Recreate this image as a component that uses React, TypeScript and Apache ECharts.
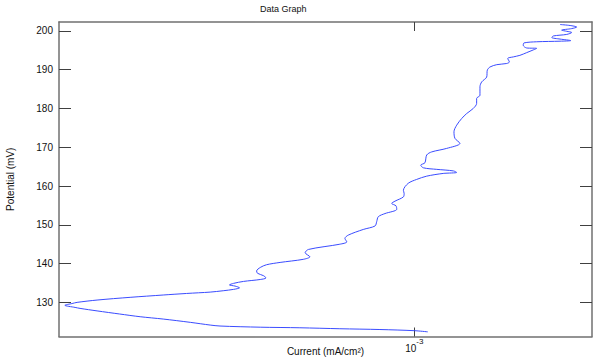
import React, { useEffect, useRef } from "react";
import * as echarts from "echarts";

// Current density (mA/cm²) (log axis)
const currents: number[] = [
  1.06e-3, 1.0e-3, 8.62e-4, 7.25e-4, 6.1e-4, 5.14e-4, 4.32e-4, 4.14e-4, 3.8e-4, 3.38e-4,
  3.06e-4, 2.8e-4, 2.54e-4, 2.36e-4, 2.31e-4, 2.21e-4, 2.28e-4, 2.33e-4, 2.54e-4, 2.93e-4,
  3.38e-4, 3.74e-4, 4.14e-4, 4.38e-4, 4.58e-4, 4.7e-4, 4.61e-4, 4.5e-4, 4.58e-4, 4.78e-4,
  5.14e-4, 5.27e-4, 5.21e-4, 5.08e-4, 5.06e-4, 5.14e-4, 5.28e-4, 5.6e-4, 6.19e-4, 6.37e-4,
  6.24e-4, 6.33e-4, 7.25e-4, 7.47e-4, 7.41e-4, 7.52e-4, 8.02e-4, 8.44e-4, 8.5e-4, 8.56e-4,
  8.81e-4, 9.27e-4, 9.24e-4, 9.07e-4, 9.2e-4, 9.54e-4, 9.57e-4, 9.54e-4, 9.74e-4, 1.01e-3,
  1.055e-3, 1.133e-3, 1.201e-3, 1.184e-3, 1.102e-3, 1.04e-3, 1.028e-3, 1.047e-3, 1.055e-3, 1.078e-3,
  1.15e-3, 1.218e-3, 1.192e-3, 1.187e-3, 1.201e-3, 1.227e-3, 1.254e-3, 1.29e-3, 1.309e-3, 1.309e-3,
  1.328e-3, 1.328e-3, 1.338e-3, 1.367e-3, 1.371e-3, 1.387e-3, 1.428e-3, 1.491e-3, 1.508e-3, 1.497e-3,
  1.534e-3, 1.578e-3, 1.625e-3, 1.672e-3, 1.697e-3, 1.625e-3, 1.601e-3, 1.606e-3, 1.697e-3, 1.877e-3,
  1.966e-3, 1.877e-3, 1.811e-3, 1.823e-3, 1.932e-3, 1.974e-3, 1.932e-3, 1.89e-3, 1.974e-3, 2.017e-3,
  1.96e-3, 1.877e-3,
];

// Potential (mV)
const potentials: number[] = [
  122.4, 122.7, 123.0, 123.2, 123.45, 123.6, 123.9, 124.15, 124.85, 125.7,
  126.3, 127.0, 127.8, 128.45, 128.7, 129.25, 129.7, 130.0, 130.6, 131.3,
  131.9, 132.3, 132.65, 133.0, 133.35, 133.75, 134.2, 134.5, 134.9, 135.4,
  135.9, 136.3, 136.9, 137.5, 138.1, 139.0, 139.7, 140.3, 141.1, 141.75,
  142.8, 143.65, 145.0, 145.6, 146.5, 147.35, 148.8, 149.7, 150.8, 152.1,
  152.9, 154.0, 154.9, 155.5, 156.1, 157.2, 158.1, 158.9, 160.7, 161.7,
  162.55, 163.25, 163.5, 163.9, 164.3, 164.7, 165.4, 166.0, 168.0, 168.8,
  169.7, 171.0, 172.3, 174.0, 175.7, 177.4, 178.7, 180.0, 181.3, 182.6,
  183.4, 185.6, 186.85, 188.1, 189.9, 190.7, 191.3, 191.6, 192.0, 192.9,
  193.3, 193.7, 194.4, 195.1, 195.5, 195.6, 196.3, 196.9, 197.2, 197.35,
  197.5, 197.9, 198.3, 198.7, 199.1, 199.6, 199.9, 200.2, 200.6, 201.0,
  201.4, 201.65,
];

const yTicks: number[] = [130, 140, 150, 160, 170, 180, 190, 200];
const xTickExponents: number[] = [-3];

const X_MIN = -3.6666; // log10 of current
const X_MAX = -2.6666;
const Y_MIN = 121.2;
const Y_MAX = 202.3;

const FONT = "Liberation Sans, Arial, sans-serif";
const AXIS_COLOR = "#707070";
const TICK_COLOR = "#404040";

export default function App() {
  const ref = useRef<HTMLDivElement>(null);

  useEffect(() => {
    if (!ref.current) return;
    const chart = echarts.init(ref.current, undefined, { renderer: "svg" });
    const data = currents.map((c, i) => [Math.log10(c), potentials[i]]);

    const axisLine = { show: true, onZero: false, lineStyle: { color: AXIS_COLOR, width: 1.5 } };

    chart.setOption({
      animation: false,
      backgroundColor: "#ffffff",
      textStyle: { fontFamily: FONT },
      grid: {
        left: 59,
        right: 8,
        top: 22,
        bottom: 25.5,
        containLabel: false,
        outerBoundsMode: "none",
      },
      graphic: [
        {
          type: "text",
          left: 283 - 23,
          top: 4,
          style: { text: "Data Graph", font: `9px ${FONT}`, fill: "#111" },
        },
      ],
      xAxis: [
        {
          type: "value",
          position: "bottom",
          min: X_MIN,
          max: X_MAX,
          axisLine,
          splitLine: { show: false },
          axisTick: {
            inside: true,
            length: 9,
            customValues: xTickExponents,
            lineStyle: { color: TICK_COLOR, width: 1 },
          },
          axisLabel: {
            customValues: xTickExponents,
            margin: 1,
            formatter: (v: number) => `{b|10}{s|${Math.round(v)}}`,
            rich: {
              b: { fontSize: 10, lineHeight: 16, verticalAlign: "bottom", color: "#111", fontFamily: FONT },
              s: { fontSize: 8, lineHeight: 9, verticalAlign: "top", color: "#111", fontFamily: FONT },
            },
          },
          name: "Current (mA/cm²)",
          nameLocation: "middle",
          nameGap: 10,
          nameMoveOverlap: false,
          nameTextStyle: { fontSize: 10, color: "#111", fontFamily: FONT, verticalAlign: "top" },
        },
        {
          type: "value",
          position: "top",
          min: X_MIN,
          max: X_MAX,
          axisLine,
          splitLine: { show: false },
          axisTick: {
            inside: true,
            length: 9,
            customValues: xTickExponents,
            lineStyle: { color: TICK_COLOR, width: 1 },
          },
          axisLabel: { show: false },
        },
      ],
      yAxis: [
        {
          type: "value",
          position: "left",
          min: Y_MIN,
          max: Y_MAX,
          axisLine,
          splitLine: { show: false },
          axisTick: {
            inside: true,
            length: 12,
            customValues: yTicks,
            lineStyle: { color: TICK_COLOR, width: 1 },
          },
          axisLabel: {
            customValues: yTicks,
            margin: 6,
            fontSize: 10,
            color: "#111",
            fontFamily: FONT,
          },
          name: "Potential (mV)",
          nameLocation: "middle",
          nameGap: 44,
          nameRotate: 90,
          nameMoveOverlap: false,
          nameTextStyle: { fontSize: 10, color: "#111", fontFamily: FONT },
        },
        {
          type: "value",
          position: "right",
          min: Y_MIN,
          max: Y_MAX,
          axisLine,
          splitLine: { show: false },
          axisTick: {
            inside: true,
            length: 12,
            customValues: yTicks,
            lineStyle: { color: TICK_COLOR, width: 1 },
          },
          axisLabel: { show: false },
        },
      ],
      series: [
        {
          type: "line",
          xAxisIndex: 0,
          yAxisIndex: 0,
          data,
          smooth: 0.3,
          showSymbol: false,
          symbol: "none",
          lineStyle: { color: "#3a4cff", width: 1 },
          clip: true,
        },
      ],
    });

    return () => chart.dispose();
  }, []);

  return (
    <div
      ref={ref}
      style={{ position: "fixed", left: 0, top: 0, width: 600, height: 362, background: "#fff" }}
    />
  );
}
